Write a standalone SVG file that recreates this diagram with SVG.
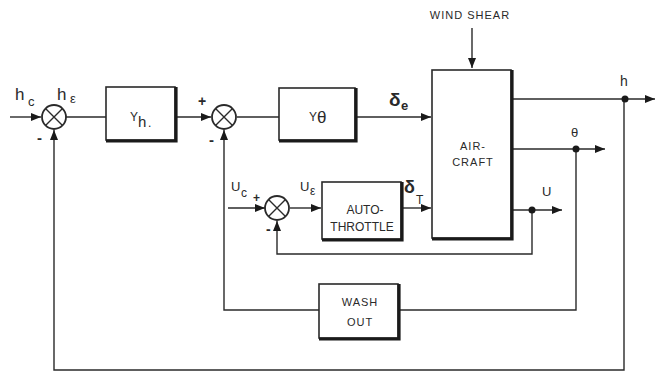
<svg xmlns="http://www.w3.org/2000/svg" width="656" height="375" viewBox="0 0 656 375">
<defs>
<style>
.ln{fill:none;stroke:#2a2a2a;stroke-width:1.4}
.bx{fill:#fff;stroke:#2a2a2a;stroke-width:1.6}
.sh{fill:none;stroke:#1a1a1a;stroke-width:3.2}
.sj{fill:#fff;stroke:#2a2a2a;stroke-width:1.8}
.t{font-family:"Liberation Sans",Arial,sans-serif;fill:#2a2a2a}
.lab{font-size:11px;letter-spacing:1px}
.dot{fill:#1a1a1a}
</style>
<marker id="ah" viewBox="0 0 10 8" refX="10" refY="4" markerWidth="10" markerHeight="8" markerUnits="userSpaceOnUse" orient="auto">
<path d="M0,0 L10,4 L0,8 z" fill="#1a1a1a"/>
</marker>
</defs>
<rect width="656" height="375" fill="#fff"/>

<g id="connectors">
<line class="ln" x1="10" y1="117" x2="41" y2="117" marker-end="url(#ah)"/>
<line class="ln" x1="66" y1="117" x2="106" y2="117"/>
<line class="ln" x1="176" y1="117" x2="211" y2="117" marker-end="url(#ah)"/>
<line class="ln" x1="237" y1="117" x2="279" y2="117"/>
<line class="ln" x1="356" y1="117" x2="431" y2="117" marker-end="url(#ah)"/>
<line class="ln" x1="472" y1="28" x2="472" y2="68" marker-end="url(#ah)"/>
<line class="ln" x1="512" y1="99" x2="655" y2="99" marker-end="url(#ah)"/>
<line class="ln" x1="512" y1="149" x2="605" y2="149" marker-end="url(#ah)"/>
<line class="ln" x1="512" y1="210" x2="562" y2="210" marker-end="url(#ah)"/>
<line class="ln" x1="228" y1="208" x2="265" y2="208" marker-end="url(#ah)"/>
<line class="ln" x1="290" y1="208" x2="321" y2="208" marker-end="url(#ah)"/>
<line class="ln" x1="402" y1="208" x2="431" y2="208" marker-end="url(#ah)"/>
<polyline class="ln" points="532,210 532,254 277,254 277,221" marker-end="url(#ah)"/>
<polyline class="ln" points="576,149 576,310 399,310"/>
<polyline class="ln" points="319,310 224,310 224,130" marker-end="url(#ah)"/>
<polyline class="ln" points="624,99 624,370 54,370 54,130" marker-end="url(#ah)"/>
<circle class="dot" cx="625" cy="99" r="3.5"/>
<circle class="dot" cx="576" cy="149" r="3.5"/>
<circle class="dot" cx="532" cy="210" r="3.5"/>
</g>

<g id="sum1">
<circle class="sj" cx="54" cy="117" r="12"/>
<path class="ln" d="M45.5,108.5 L62.5,125.5 M62.5,108.5 L45.5,125.5" stroke-width="1.8"/>
</g>
<g id="sum2">
<circle class="sj" cx="224" cy="117" r="12"/>
<path class="ln" d="M215.5,108.5 L232.5,125.5 M232.5,108.5 L215.5,125.5" stroke-width="1.8"/>
</g>
<g id="sum3">
<circle class="sj" cx="277" cy="208" r="12"/>
<path class="ln" d="M268.5,199.5 L285.5,216.5 M285.5,199.5 L268.5,216.5" stroke-width="1.8"/>
</g>

<g id="Yh">
<rect class="bx" x="106" y="87" width="69" height="53"/>
<path class="sh" d="M176,87 L176,141 L106,141"/>
<text class="t" x="130" y="121" font-size="12">Y</text>
<text class="t" x="138" y="127" font-size="15">h</text>
<text class="t" x="148" y="127" font-size="12">.</text>
</g>
<g id="Ytheta">
<rect class="bx" x="279" y="88" width="76" height="52"/>
<path class="sh" d="M356,88 L356,141 L279,141"/>
<text class="t" x="309" y="121" font-size="12">Y</text>
<text class="t" x="317" y="123" font-size="17">θ</text>
</g>
<g id="aircraft">
<rect class="bx" x="432" y="70" width="79" height="168"/>
<path class="sh" d="M512,70 L512,239 L432,239"/>
<text class="t lab" x="473" y="150" text-anchor="middle" font-size="12">AIR-</text>
<text class="t lab" x="473" y="166" text-anchor="middle" font-size="12">CRAFT</text>
</g>
<g id="autothrottle">
<rect class="bx" x="322" y="182" width="79" height="57"/>
<path class="sh" d="M402,182 L402,240 L322,240"/>
<text class="t" x="365" y="214" text-anchor="middle" font-size="12">AUTO-</text>
<text class="t" x="362" y="231" text-anchor="middle" font-size="12">THROTTLE</text>
</g>
<g id="washout">
<rect class="bx" x="319" y="284" width="79" height="54"/>
<path class="sh" d="M399,284 L399,339 L319,339"/>
<text class="t lab" x="360" y="306" text-anchor="middle" font-size="11">WASH</text>
<text class="t lab" x="360" y="326" text-anchor="middle" font-size="11">OUT</text>
</g>

<g id="labels">
<text class="t lab" x="470" y="19" text-anchor="middle" font-size="10">WIND SHEAR</text>
<text class="t" x="15" y="100" font-size="17">h</text>
<text class="t" x="28" y="106" font-size="13">c</text>
<text class="t" x="57" y="100" font-size="17">h</text>
<text class="t" x="70" y="103" font-size="13">ε</text>
<text class="t" x="37" y="143" font-size="15" font-weight="bold">-</text>
<text class="t" x="198" y="106" font-size="14" font-weight="bold">+</text>
<text class="t" x="209" y="145" font-size="15" font-weight="bold">-</text>
<text class="t" x="389" y="106" font-size="19" font-weight="bold">δ</text>
<text class="t" x="401" y="110" font-size="13" font-weight="bold">e</text>
<text class="t" x="231" y="191" font-size="13">U</text>
<text class="t" x="241" y="197" font-size="12">c</text>
<text class="t" x="253" y="202" font-size="12" font-weight="bold">+</text>
<text class="t" x="266" y="234" font-size="14" font-weight="bold">-</text>
<text class="t" x="300" y="191" font-size="13">U</text>
<text class="t" x="310" y="195" font-size="12">ε</text>
<text class="t" x="404" y="193" font-size="18" font-weight="bold">δ</text>
<text class="t" x="416" y="204" font-size="12">T</text>
<text class="t" x="620" y="86" font-size="14">h</text>
<text class="t" x="571" y="137" font-size="13">θ</text>
<text class="t" x="542" y="196" font-size="13">U</text>
</g>
</svg>
